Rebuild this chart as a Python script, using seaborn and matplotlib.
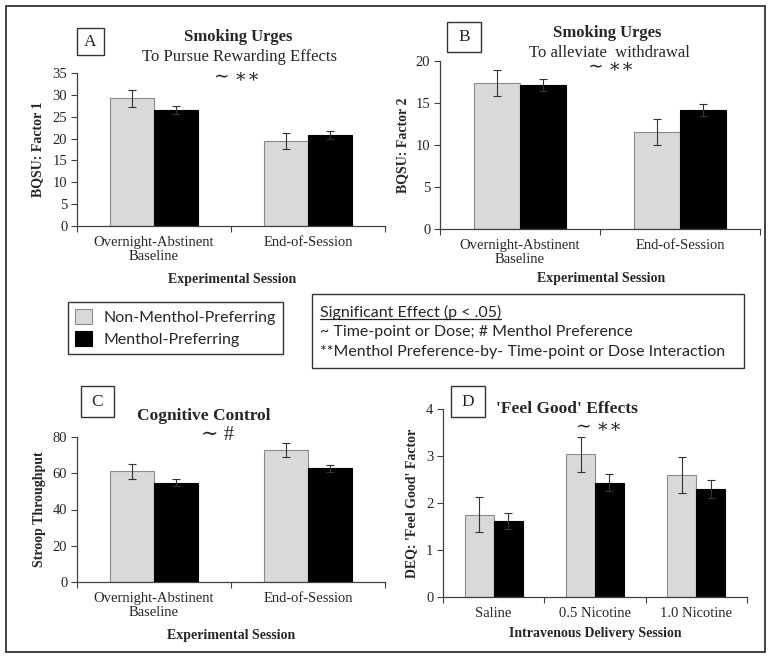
import matplotlib
matplotlib.use("Agg")
import matplotlib.pyplot as plt
from matplotlib.patches import Rectangle
from matplotlib.lines import Line2D
import seaborn as sns
import pandas as pd
import numpy as np

# ---------------- data ----------------
groups = ["Non-Menthol-Preferring", "Menthol-Preferring"]
sessions = ["Overnight-Abstinent\nBaseline", "End-of-Session"]
doses = ["Saline", "0.5 Nicotine", "1.0 Nicotine"]

a_nonmenthol = [29.2, 19.4]
a_nonmenthol_err = [1.9, 1.85]
a_menthol = [26.6, 20.8]
a_menthol_err = [0.9, 1.0]

b_nonmenthol = [17.35, 11.5]
b_nonmenthol_err = [1.55, 1.55]
b_menthol = [17.15, 14.2]
b_menthol_err = [0.75, 0.7]

c_nonmenthol = [61.0, 72.8]
c_nonmenthol_err = [4.2, 4.1]
c_menthol = [54.8, 62.7]
c_menthol_err = [1.9, 2.0]

d_nonmenthol = [1.75, 3.04, 2.60]
d_nonmenthol_err = [0.37, 0.37, 0.38]
d_menthol = [1.62, 2.43, 2.30]
d_menthol_err = [0.17, 0.18, 0.19]

W, H = 770, 658
sns.set_theme(style="white")
plt.rcParams["font.family"] = ["Liberation Serif", "DejaVu Serif"]
SERIF = ["Liberation Serif", "DejaVu Serif"]
SANS = ["Lato", "DejaVu Sans"]

fig = plt.figure(figsize=(W / 100, H / 100), dpi=100)
fig.patch.set_facecolor("white")

GREY = "#d9d9d9"
BLACK = "#000000"
AXCOL = "#404040"
SIG2 = "\u223c \u2217\u2217"
SIG_C = "\u223c #"


def fx(x):
    return x / W


def fy(y):
    return 1 - y / H


def add_axes(x0, x1, ytop, ybot):
    return fig.add_axes([fx(x0), fy(ybot), (x1 - x0) / W, (ybot - ytop) / H])


def panel(ax, cats, nm, nm_err, m, m_err, ylim, ystep, ylabel, xlabel, geom):
    df = pd.DataFrame({
        "cat": list(cats) * 2,
        "group": [groups[0]] * len(cats) + [groups[1]] * len(cats),
        "value": list(nm) + list(m),
    })
    sns.barplot(data=df, x="cat", y="value", hue="group", order=cats,
                hue_order=groups, palette=[GREY, BLACK], width=0.57,
                errorbar=None, legend=False, ax=ax, saturation=1)
    for cont, errs, ec in zip(ax.containers, [nm_err, m_err], ["#8a8a8a", "#000000"]):
        xs, ys = [], []
        for p in cont.patches:
            p.set_edgecolor(ec)
            p.set_linewidth(0.8)
            xs.append(p.get_x() + p.get_width() / 2)
            ys.append(p.get_height())
        ax.errorbar(xs, ys, yerr=errs, fmt="none", ecolor="#333333",
                    elinewidth=0.8, capsize=3, capthick=0.8, zorder=5)
    n = len(cats)
    ax.set_xlim(-0.5, n - 0.5)
    ax.set_ylim(*ylim)
    ticks = np.arange(ylim[0], ylim[1] + 0.001, ystep)
    ax.set_yticks(ticks)
    ax.set_yticklabels([f"{int(v)}" for v in ticks], fontsize=10.5, family=SERIF)
    ax.set_xticks(np.arange(-0.5, n, 1.0))
    ax.set_xticklabels([])
    ax.set_xticks(np.arange(n), minor=True)
    ax.set_xticklabels(cats, minor=True, fontsize=10.5, family=SERIF,
                       linespacing=1.15)
    ax.tick_params(axis="x", which="minor", length=0, pad=7)
    ax.tick_params(axis="x", which="major", length=4, width=0.8,
                   direction="out", color=AXCOL, bottom=True)
    ax.tick_params(axis="y", length=4, width=0.8, direction="out",
                   color=AXCOL, left=True, pad=3)
    for s in ["top", "right"]:
        ax.spines[s].set_visible(False)
    for s in ["left", "bottom"]:
        ax.spines[s].set_color(AXCOL)
        ax.spines[s].set_linewidth(0.9)
    ax.set_facecolor("none")
    ax.set_ylabel(ylabel, fontsize=10, fontweight="bold", family=SERIF)
    ax.set_xlabel(xlabel, fontsize=10, fontweight="bold", family=SERIF)
    return ax


def label_box(x0, x1, y0, y1, letter):
    fig.patches.append(Rectangle((fx(x0), fy(y1)), (x1 - x0) / W, (y1 - y0) / H,
                                 transform=fig.transFigure, fill=False,
                                 edgecolor="#333333", linewidth=1.0))
    fig.text(fx((x0 + x1) / 2), fy((y0 + y1) / 2), letter, ha="center",
             va="center", fontsize=12.5, family=SERIF)


def place_labels(ax, geom, ylab_x, xlab):
    x0, x1, ytop, ybot = geom
    lab = ax.yaxis.label
    lab.set_verticalalignment("center")
    lab.set_rotation_mode("default")
    ax.yaxis.set_label_coords((ylab_x - x0) / (x1 - x0), 0.5)
    xl, yl = xlab
    ax.xaxis.label.set_verticalalignment("center")
    ax.xaxis.set_label_coords((xl - x0) / (x1 - x0), -(yl - ybot) / (ybot - ytop))


# ---------------- Panel A ----------------
gA = (77, 385, 73, 226)
axA = add_axes(*gA)
panel(axA, sessions, a_nonmenthol, a_nonmenthol_err, a_menthol, a_menthol_err,
      (0, 35), 5, "BQSU: Factor 1", "Experimental Session", gA)
place_labels(axA, gA, 38, (232, 279))
label_box(77, 104, 28, 55, "A")
fig.text(fx(238), fy(37), "Smoking Urges", ha="center", va="center",
         fontsize=12, fontweight="bold", family=SERIF)
fig.text(fx(239), fy(57), "To Pursue Rewarding Effects", ha="center",
         va="center", fontsize=12, family=SERIF)
fig.text(fx(237), fy(77), SIG2, ha="center", va="center", fontsize=13.5,
         family=SERIF)

# ---------------- Panel B ----------------
gB = (440, 760, 61, 229)
axB = add_axes(*gB)
panel(axB, sessions, b_nonmenthol, b_nonmenthol_err, b_menthol, b_menthol_err,
      (0, 20), 5, "BQSU: Factor 2", "Experimental Session", gB)
place_labels(axB, gB, 403, (601, 279))
label_box(447, 481, 22, 52, "B")
fig.text(fx(607), fy(33), "Smoking Urges", ha="center", va="center",
         fontsize=12, fontweight="bold", family=SERIF)
fig.text(fx(609), fy(53), "To alleviate  withdrawal", ha="center",
         va="center", fontsize=12, family=SERIF)
fig.text(fx(611), fy(68), SIG2, ha="center", va="center", fontsize=13.5,
         family=SERIF)

# ---------------- Panel C ----------------
gC = (77, 385, 437, 582)
axC = add_axes(*gC)
panel(axC, sessions, c_nonmenthol, c_nonmenthol_err, c_menthol, c_menthol_err,
      (0, 80), 20, "Stroop Throughput", "Experimental Session", gC)
place_labels(axC, gC, 40, (231, 635))
label_box(81, 114, 386, 417, "C")
fig.text(fx(204), fy(416), "Cognitive Control", ha="center", va="center",
         fontsize=12.5, fontweight="bold", family=SERIF)
fig.text(fx(218), fy(435), SIG_C, ha="center", va="center", fontsize=15,
         family=SERIF)

# ---------------- Panel D ----------------
gD = (443, 747, 409, 597)
axD = add_axes(*gD)
panel(axD, doses, d_nonmenthol, d_nonmenthol_err, d_menthol, d_menthol_err,
      (0, 4), 1, "DEQ: 'Feel Good' Factor", "Intravenous Delivery Session", gD)
place_labels(axD, gD, 412, (595, 634))
label_box(451, 485, 386, 417, "D")
fig.text(fx(567), fy(409), "'Feel Good' Effects", ha="center", va="center",
         fontsize=12.5, fontweight="bold", family=SERIF)
fig.text(fx(599), fy(427), SIG2, ha="center", va="center", fontsize=13.5,
         family=SERIF)

# ---------------- Legend ----------------
leg = fig.legend(handles=list(axA.containers), labels=groups, loc="upper left",
                 bbox_to_anchor=(fx(68), fy(302)), bbox_transform=fig.transFigure,
                 borderaxespad=0, frameon=True, fancybox=False, framealpha=1,
                 edgecolor="#333333", prop={"family": SANS, "size": 11.5},
                 handlelength=1.05, handleheight=1.05, handletextpad=0.7,
                 labelspacing=0.4, borderpad=0.45)
leg.get_frame().set_linewidth(1.0)

# ---------------- Significance box ----------------
fig.patches.append(Rectangle((fx(312), fy(368)), (744 - 312) / W, (368 - 294) / H,
                             transform=fig.transFigure, fill=False,
                             edgecolor="#333333", linewidth=1.0))
t1 = fig.text(fx(320), fy(312), "Significant Effect (p < .05)", ha="left",
              va="center", fontsize=11.5, family=SANS)
fig.text(fx(320), fy(332), "~ Time-point or Dose; # Menthol Preference",
         ha="left", va="center", fontsize=11.5, family=SANS)
fig.text(fx(320), fy(352), "**Menthol Preference-by- Time-point or Dose Interaction",
         ha="left", va="center", fontsize=11.5, family=SANS)

fig.canvas.draw()
bb = t1.get_window_extent()
inv = fig.transFigure.inverted()
(ux0, uy0), (ux1, uy1) = inv.transform([(bb.x0, bb.y0), (bb.x1, bb.y0)])
fig.lines.append(Line2D([ux0, ux1], [uy0 + 1.0 / H, uy1 + 1.0 / H],
                        transform=fig.transFigure, color="#222222", linewidth=0.9))

# ---------------- Outer frame ----------------
fig.patches.append(Rectangle((fx(6), fy(652)), (765 - 6) / W, (652 - 6) / H,
                             transform=fig.transFigure, fill=False,
                             edgecolor="#333333", linewidth=1.3))

fig.savefig("out.png", dpi=100, facecolor="white")
